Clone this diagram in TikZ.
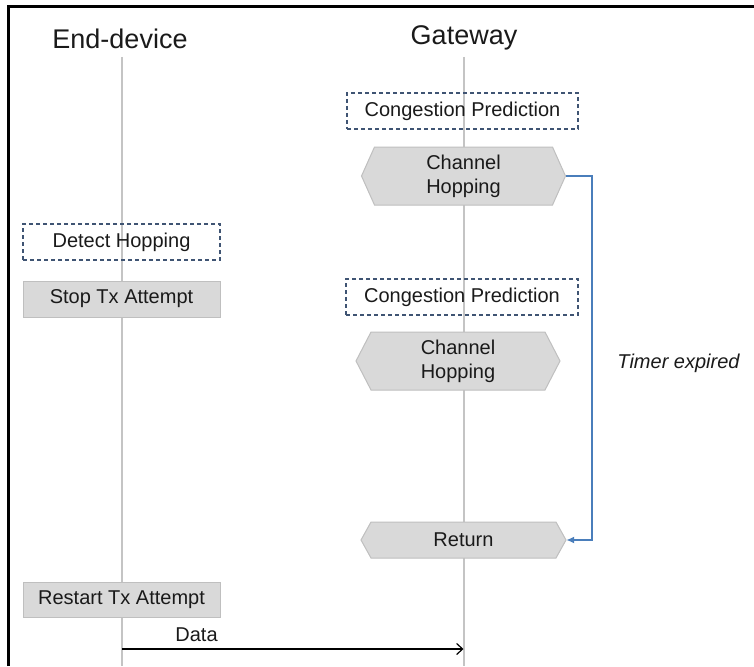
\documentclass[tikz,border=0pt]{standalone}
\usepackage{fontspec}
\setmainfont{Liberation Sans}
\usetikzlibrary{arrows.meta}
\definecolor{boxfill}{HTML}{D9D9D9}
\definecolor{boxline}{HTML}{BFBFBF}
\definecolor{dashline}{HTML}{3F5473}
\definecolor{lifegray}{HTML}{C4C4C4}
\definecolor{loopblue}{HTML}{4A7EBB}
\definecolor{txt}{HTML}{1A1A1A}
\tikzset{
  title/.style={font=\fontsize{27}{30}\selectfont, text=txt, inner sep=0pt},
  lbl/.style={font=\fontsize{20}{24}\selectfont, text=txt, align=center, inner sep=0pt},
  dashbox/.style={draw=dashline, line width=1.3pt, dash pattern=on 4pt off 3pt, minimum width=#1, minimum height=36pt, lbl},
  graybox/.style={draw=boxline, fill=boxfill, line width=1pt, minimum width=#1, minimum height=36pt, lbl},
  hexlbl/.style={lbl, minimum width=#1},
  hexfill/.style={fill=boxfill, draw=boxline, line width=1pt},
  lifeline/.style={draw=lifegray, line width=2pt},
  loopline/.style={draw=loopblue, line width=2pt},
  frameline/.style={draw=black, line width=3pt},
}
% name, cx, cy, halfwidth, halfheight, depth, text
\newcommand\hexnode[7]{%
  \path[hexfill] (#2-#4,#3) -- (#2-#4+#6,#3-#5) -- (#2+#4-#6,#3-#5) -- (#2+#4,#3)
     -- (#2+#4-#6,#3+#5) -- (#2-#4+#6,#3+#5) -- cycle;
  \node[hexlbl=2*#4 pt, minimum height=2*#5 pt] (#1) at (#2,#3) {#7};
}
\begin{document}
\begin{tikzpicture}[x=1pt,y=-1pt]
\useasboundingbox (0,0) rectangle (754,666);
% frame
\draw[frameline] (8,666) -- (8,7) -- (754,7);
% titles
\node[title] (edtitle) at (120,39) {End-device};
\node[title] (gwtitle) at (464,38) {Gateway};
% lifelines
\coordinate (edtop) at (122,57);
\coordinate (edbot) at (122,666);
\coordinate (gwtop) at (463.5,57);
\coordinate (gwbot) at (463.5,666);
\draw[lifeline] (edtop) -- (edbot);
\draw[lifeline] (gwtop) -- (gwbot);
% gateway side
\node[dashbox=231pt, minimum height=36pt] (cp1) at (462.5,111) {Congestion Prediction};
\hexnode{ch1}{463.5}{176}{102}{29}{13}{Channel\\Hopping}
\node[dashbox=232pt, minimum height=36pt] (cp2) at (462,297) {Congestion Prediction};
\hexnode{ch2}{458}{361}{102}{29}{15}{Channel\\Hopping}
\hexnode{ret}{463.5}{540}{102.5}{18}{10}{Return}
% end-device side
\node[dashbox=197pt, minimum height=36pt] (dh) at (121.5,242) {Detect Hopping};
\node[graybox=197pt, minimum height=36pt] (stop) at (121.5,299) {Stop Tx Attempt};
\node[graybox=197pt, minimum height=35pt] (restart) at (121.5,599.5) {Restart Tx Attempt};
% timer loop
\coordinate (loopc) at (592,176);
\draw[loopline, -{Latex[length=8pt,width=7pt]}] (ch1.east) -- (loopc) |- (ret.east);
\node[lbl, font=\fontsize{20}{24}\selectfont\itshape] (timer) at (678.5,363) {Timer expired};
% data message
\coordinate (dstart) at (122,649);
\coordinate (dend) at (463.5,649);
\draw[line width=1.2pt, -{Straight Barb[length=6pt,width=11pt]}] (dstart) -- (dend);
\node[lbl] (datalbl) at (196.5,635) {Data};
\end{tikzpicture}
\end{document}
